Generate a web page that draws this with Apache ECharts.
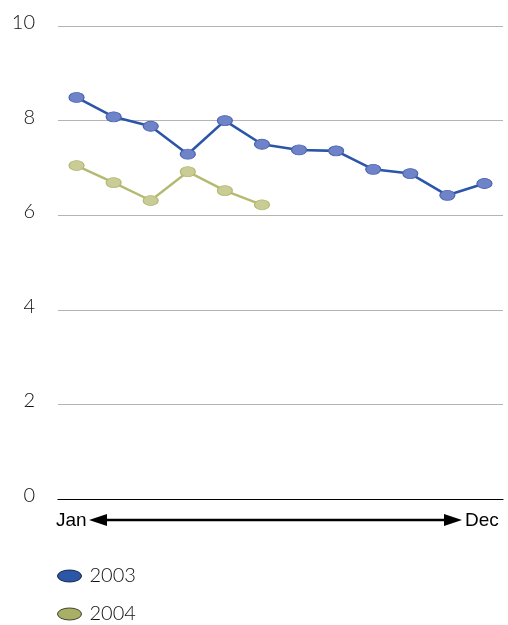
<!DOCTYPE html>
<html>
<head>
<meta charset="utf-8">
<script src="https://cdn.jsdelivr.net/npm/echarts@6/dist/echarts.min.js"></script>
<style>
  html, body { margin: 0; padding: 0; background: #fff; }
  #chart { width: 508px; height: 625px; }
</style>
</head>
<body>
<div id="chart"></div>
<script>
// Monthly values, January to December
const months = ['Jan', 'Feb', 'Mar', 'Apr', 'May', 'Jun', 'Jul', 'Aug', 'Sep', 'Oct', 'Nov', 'Dec'];
const values2003 = [8.49, 8.08, 7.88, 7.29, 8.0, 7.5, 7.38, 7.36, 6.97, 6.88, 6.42, 6.67];
const values2004 = [7.05, 6.69, 6.31, 6.92, 6.52, 6.22];
const seriesNames = ['2003', '2004'];
const yTicks = [0, 2, 4, 6, 8, 10];

const ellipse = 'path://M0,5A10,5,0,1,1,20,5A10,5,0,1,1,0,5Z';
const labelFont = 'Lato, "Open Sans", sans-serif';
const arrowFont = '19px "Liberation Sans", Arial, sans-serif';

// One legend block per series so each sits on its own row
function legendRow(name, top, fill, border) {
  return {
    orient: 'vertical',
    left: 57,
    top: top,
    padding: 0,
    itemWidth: 24,
    itemHeight: 15,
    itemGap: 8,
    textStyle: { fontFamily: labelFont, fontWeight: 300, fontSize: 20, color: '#111', padding: [0, 0, 0, 3] },
    data: [{ name: name, icon: ellipse, itemStyle: { color: fill, borderColor: border, borderWidth: 1 } }]
  };
}

const chart = echarts.init(document.getElementById('chart'));

chart.setOption({
  animation: false,
  backgroundColor: '#fff',
  grid: { left: 58, right: 5, top: 26, bottom: 126 },
  xAxis: {
    type: 'category',
    data: months,
    boundaryGap: true,
    axisLine: { lineStyle: { color: '#000', width: 1.2 } },
    axisTick: { show: false },
    axisLabel: { show: false },
    splitLine: { show: false }
  },
  yAxis: {
    type: 'value',
    min: yTicks[0],
    max: yTicks[yTicks.length - 1],
    interval: 2,
    axisLine: { show: false },
    axisTick: { show: false },
    splitLine: { lineStyle: { color: '#b4b4b4', width: 1 } },
    axisLabel: {
      margin: 23,
      fontFamily: labelFont,
      fontWeight: 300,
      fontSize: 20,
      color: '#111',
      verticalAlign: 'bottom',
      lineHeight: 7
    }
  },
  legend: [
    legendRow(seriesNames[0], 566, '#2c57a7', '#14264f'),
    legendRow(seriesNames[1], 604, '#a9b066', '#3f4230')
  ],
  series: [
    {
      name: seriesNames[0],
      type: 'line',
      data: values2003,
      symbol: ellipse,
      symbolSize: [15, 10],
      lineStyle: { color: '#2a55a8', width: 2.6 },
      itemStyle: { color: '#6f84c8', borderColor: '#4b64b2', borderWidth: 1 },
      z: 3
    },
    {
      name: seriesNames[1],
      type: 'line',
      data: values2004,
      symbol: ellipse,
      symbolSize: [15, 10],
      lineStyle: { color: '#b5ba72', width: 2.4 },
      itemStyle: { color: '#c9cd95', borderColor: '#b3b873', borderWidth: 1 },
      z: 2
    }
  ],
  // Time-direction arrow beneath the axis
  graphic: [
    { type: 'text', x: 56, y: 521, style: { text: months[0], font: arrowFont, fill: '#000', verticalAlign: 'middle' } },
    { type: 'text', x: 465, y: 521, style: { text: months[months.length - 1], font: arrowFont, fill: '#000', verticalAlign: 'middle' } },
    { type: 'line', shape: { x1: 100, y1: 520, x2: 450, y2: 520 }, style: { stroke: '#000', lineWidth: 2.5 } },
    { type: 'polygon', shape: { points: [[89, 520], [107, 514], [107, 526]] }, style: { fill: '#000' } },
    { type: 'polygon', shape: { points: [[462, 520], [444, 514], [444, 526]] }, style: { fill: '#000' } }
  ]
});
</script>
</body>
</html>
